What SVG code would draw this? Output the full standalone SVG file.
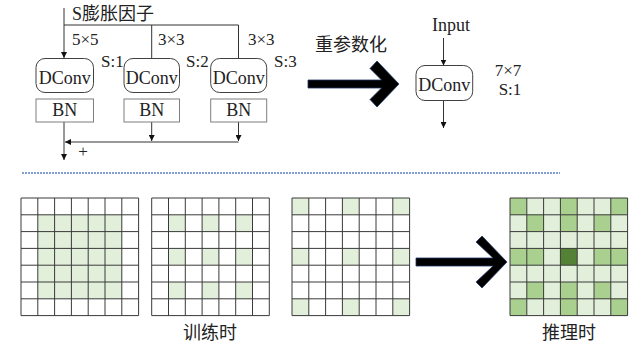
<svg xmlns="http://www.w3.org/2000/svg" xmlns:xlink="http://www.w3.org/1999/xlink" width="644" height="347" viewBox="0 0 644 347">
<style>
.t{font-family:"Liberation Serif",serif;fill:#222;}
.cjk{font-family:"Noto Sans CJK SC",sans-serif;fill:#222;}
.dconv{fill:#fff;stroke:#404040;stroke-width:1;}
.bn{fill:#fff;stroke:#7f7f7f;stroke-width:1;}
.ln{fill:none;stroke:#333;stroke-width:1;}
.gl{fill:none;stroke:#3a3a3a;stroke-width:1;}
.L{fill:#e2efda;}
.M{fill:#a9d08e;}
.D{fill:#548235;}
.big{fill:#000;stroke:#1f3864;stroke-width:0.8;}
</style>
<defs>
<marker id="ah" viewBox="0 0 10 10" refX="10" refY="5" markerWidth="6" markerHeight="6" markerUnits="userSpaceOnUse" orient="auto">
<path d="M0,0 L10,5 L0,10 z" fill="#111"/>
</marker>
<path id="grid" class="gl" d="M0,0V117.6M16.8,0V117.6M33.6,0V117.6M50.4,0V117.6M67.2,0V117.6M84,0V117.6M100.8,0V117.6M117.6,0V117.6M0,0H117.6M0,16.8H117.6M0,33.6H117.6M0,50.4H117.6M0,67.2H117.6M0,84H117.6M0,100.8H117.6M0,117.6H117.6"/>
<rect id="c" width="16.8" height="16.8"/>
</defs>
<rect width="644" height="347" fill="#fff"/>

<g id="connectors">
<path class="ln" d="M64,8V58" marker-end="url(#ah)"/>
<path class="ln" d="M64,25H238.5M151.7,25V58.5M238.5,25V58.5"/>
<path class="ln" d="M64,122V160" marker-end="url(#ah)"/>
<path class="ln" d="M151.7,122V141" marker-end="url(#ah)"/>
<path class="ln" d="M238.5,122V141" marker-end="url(#ah)"/>
<path class="ln" d="M238.5,142H65" marker-end="url(#ah)"/>
<path class="ln" d="M443.5,38V65.5" marker-end="url(#ah)"/>
<path class="ln" d="M443.5,101V128" marker-end="url(#ah)"/>
<path d="M22,173H560" stroke="#5b7fc7" stroke-width="1.5" stroke-dasharray="2,1" fill="none"/>
</g>

<g id="input-label"><text class="t" x="72" y="20" font-size="18">S<tspan class="cjk">膨胀因子</tspan></text></g>
<g id="labels">
<text class="t" x="72" y="45" font-size="17">5×5</text>
<text class="t" x="158" y="45" font-size="17">3×3</text>
<text class="t" x="248" y="45" font-size="17">3×3</text>
<text class="t" x="101" y="67" font-size="17">S:1</text>
<text class="t" x="186" y="67" font-size="17">S:2</text>
<text class="t" x="274" y="67" font-size="17">S:3</text>
<text class="t" x="83" y="157" font-size="17" text-anchor="middle">+</text>
</g>

<g id="dconv1"><rect class="dconv" x="36" y="58.5" width="57.5" height="34" rx="9"/><text class="t" x="64.7" y="84" font-size="18" text-anchor="middle">DConv</text></g>
<g id="dconv2"><rect class="dconv" x="124" y="58.5" width="55.5" height="34" rx="9"/><text class="t" x="151.7" y="84" font-size="18" text-anchor="middle">DConv</text></g>
<g id="dconv3"><rect class="dconv" x="210.7" y="58.5" width="56" height="34" rx="9"/><text class="t" x="238.7" y="84" font-size="18" text-anchor="middle">DConv</text></g>
<g id="bn1"><rect class="bn" x="36" y="99" width="57.5" height="23"/><text class="t" x="64.7" y="116" font-size="18" text-anchor="middle">BN</text></g>
<g id="bn2"><rect class="bn" x="124" y="99" width="55.5" height="23"/><text class="t" x="151.7" y="116" font-size="18" text-anchor="middle">BN</text></g>
<g id="bn3"><rect class="bn" x="210.7" y="99" width="56" height="23"/><text class="t" x="238.7" y="116" font-size="18" text-anchor="middle">BN</text></g>

<g id="reparam">
<text class="cjk" x="315" y="51" font-size="18">重参数化</text>
<polygon class="big" points="308,80 381.5,80 370,68.5 377,61 399,84 377,107 370,99.5 381.5,88 308,88"/>
</g>

<g id="input"><text class="t" x="451" y="31" font-size="18" text-anchor="middle">Input</text></g>
<g id="dconv-merged"><rect class="dconv" x="416" y="65.5" width="56.7" height="35" rx="9"/><text class="t" x="444.3" y="91" font-size="18" text-anchor="middle">DConv</text></g>
<g id="merged-label">
<text class="t" x="508" y="76" font-size="17" text-anchor="middle">7×7</text>
<text class="t" x="510" y="95" font-size="17" text-anchor="middle">S:1</text>
</g>

<g id="grid1" transform="translate(21,198)">
<rect class="L" x="16.8" y="16.8" width="84" height="84"/>
<use xlink:href="#grid"/>
</g>
<g id="grid2" transform="translate(151.7,198)">
<g class="L">
<use xlink:href="#c" x="16.8" y="16.8"/><use xlink:href="#c" x="50.4" y="16.8"/><use xlink:href="#c" x="84" y="16.8"/>
<use xlink:href="#c" x="16.8" y="50.4"/><use xlink:href="#c" x="50.4" y="50.4"/><use xlink:href="#c" x="84" y="50.4"/>
<use xlink:href="#c" x="16.8" y="84"/><use xlink:href="#c" x="50.4" y="84"/><use xlink:href="#c" x="84" y="84"/>
</g>
<use xlink:href="#grid"/>
</g>
<g id="grid3" transform="translate(292,198)">
<g class="L">
<use xlink:href="#c" x="0" y="0"/><use xlink:href="#c" x="50.4" y="0"/><use xlink:href="#c" x="100.8" y="0"/>
<use xlink:href="#c" x="0" y="50.4"/><use xlink:href="#c" x="50.4" y="50.4"/><use xlink:href="#c" x="100.8" y="50.4"/>
<use xlink:href="#c" x="0" y="100.8"/><use xlink:href="#c" x="50.4" y="100.8"/><use xlink:href="#c" x="100.8" y="100.8"/>
</g>
<use xlink:href="#grid"/>
</g>
<g id="arrow2">
<polygon class="big" points="416,258 493,258 476,242 482,236 507,262 482,288 476,282 493,266 416,266"/>
</g>
<g id="grid4" transform="translate(510,198)">
<rect class="L" width="117.6" height="117.6"/>
<g class="M">
<use xlink:href="#c" x="0" y="0"/><use xlink:href="#c" x="50.4" y="0"/><use xlink:href="#c" x="100.8" y="0"/>
<use xlink:href="#c" x="16.8" y="16.8"/><use xlink:href="#c" x="50.4" y="16.8"/><use xlink:href="#c" x="84" y="16.8"/>
<use xlink:href="#c" x="0" y="50.4"/><use xlink:href="#c" x="16.8" y="50.4"/><use xlink:href="#c" x="84" y="50.4"/><use xlink:href="#c" x="100.8" y="50.4"/>
<use xlink:href="#c" x="16.8" y="84"/><use xlink:href="#c" x="50.4" y="84"/><use xlink:href="#c" x="84" y="84"/>
<use xlink:href="#c" x="0" y="100.8"/><use xlink:href="#c" x="50.4" y="100.8"/><use xlink:href="#c" x="100.8" y="100.8"/>
</g>
<use xlink:href="#c" class="D" x="50.4" y="50.4"/>
<use xlink:href="#grid"/>
</g>

<g id="captions">
<text class="cjk" x="210" y="339" font-size="18" text-anchor="middle">训练时</text>
<text class="cjk" x="569" y="339" font-size="18" text-anchor="middle">推理时</text>
</g>
</svg>
